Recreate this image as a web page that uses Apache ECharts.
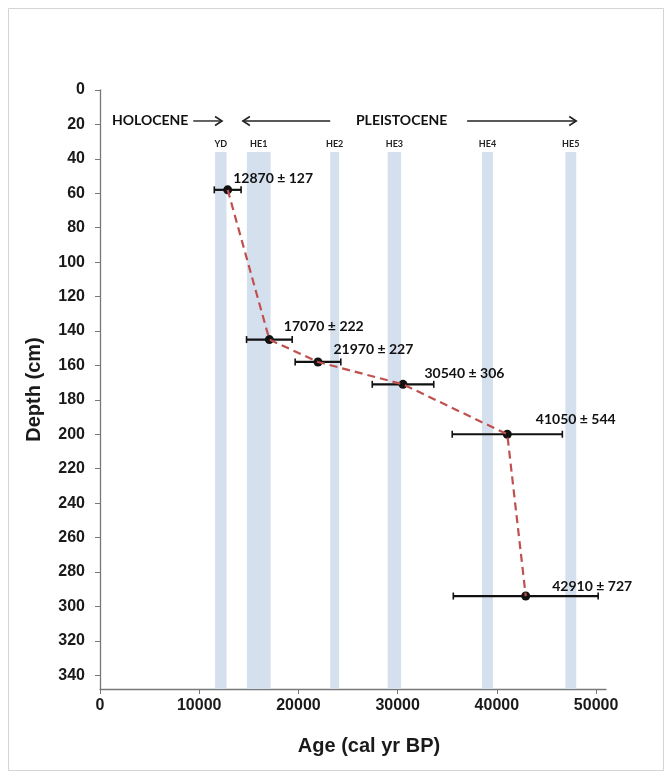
<!DOCTYPE html>
<html>
<head>
<meta charset="utf-8">
<script src="https://cdn.jsdelivr.net/npm/echarts@6/dist/echarts.min.js"></script>
<style>
  html, body { margin: 0; padding: 0; background: #fff; }
  #chart { width: 672px; height: 778px; }
</style>
</head>
<body>
<div id="chart"></div>
<script>
// Radiocarbon-dated horizons: calibrated age, core depth, stated 1-sigma error
const ages = [12870, 17070, 21970, 30540, 41050, 42910];
const depths = [58, 145, 158, 171, 200, 294];
const ageErrors = [127, 222, 227, 306, 544, 727];
// half-width of the horizontal range bar drawn around each age
const rangeHalfWidths = [1350, 2300, 2300, 3100, 5550, 7300];

// Younger Dryas and Heinrich events (age spans)
const eventNames = ['YD', 'HE1', 'HE2', 'HE3', 'HE4', 'HE5'];
const eventStarts = [11600, 14800, 23200, 29000, 38500, 46900];
const eventEnds = [12750, 17200, 24100, 30350, 39600, 48000];

// Axis ranges
const ageMin = 0, ageMax = 51000, ageStep = 10000;
const depthMin = 0, depthMax = 348, depthStep = 20;
const bandTopDepth = 36;

// Label placement next to each dated point (pixels: right, down)
const labelOffsets = [[1, -11], [10, -13], [11, -12], [17, -11], [24, -15], [22, -10]];

const axisFontFamily = 'Liberation Sans, Arial, sans-serif';
const tickFont = { fontFamily: axisFontFamily, fontWeight: 'bold', fontSize: 16, color: '#1a1a1a' };
const titleFont = { fontFamily: axisFontFamily, fontWeight: 'bold', fontSize: 20, color: '#1a1a1a' };
const annoFont = 'Lato, Carlito, sans-serif';

const chart = echarts.init(document.getElementById('chart'), null, { renderer: 'canvas' });

const pointData = ages.map((a, i) => ({
  value: [a, depths[i]],
  label: { offset: labelOffsets[i] }
}));
const rangeData = ages.map((a, i) => [a, depths[i], rangeHalfWidths[i]]);
const bandData = eventNames.map((n, i) => [
  { name: n, xAxis: eventStarts[i], yAxis: bandTopDepth },
  { xAxis: eventEnds[i], yAxis: depthMax }
]);

chart.setOption({
  animation: false,
  backgroundColor: '#fff',
  grid: { left: 100, right: 66, top: 90, bottom: 89, containLabel: false },
  xAxis: {
    type: 'value', min: ageMin, max: ageMax, interval: ageStep,
    name: 'Age (cal yr BP)', nameLocation: 'middle', nameGap: 47,
    nameTextStyle: Object.assign({ padding: [0, 0, 0, 32] }, titleFont),
    axisLine: { onZero: false, lineStyle: { color: '#777', width: 1.3 } },
    axisTick: { length: 5, lineStyle: { color: '#777' } },
    axisLabel: Object.assign({ margin: 9, showMaxLabel: false, formatter: v => String(v) }, tickFont),
    splitLine: { show: false }
  },
  yAxis: {
    type: 'value', inverse: true, min: depthMin, max: depthMax, interval: depthStep,
    name: 'Depth (cm)', nameLocation: 'middle', nameGap: 56, nameRotate: 90,
    nameTextStyle: titleFont,
    axisLine: { onZero: false, lineStyle: { color: '#777', width: 1.3 } },
    axisTick: { length: 5, lineStyle: { color: '#777' } },
    axisLabel: Object.assign({ margin: 15, showMaxLabel: false, formatter: v => String(v) }, tickFont),
    splitLine: { show: false }
  },
  series: [
    {
      // event bands and horizontal age-range bars
      type: 'custom',
      z: 2,
      data: rangeData,
      encode: { x: 0, y: 1 },
      renderItem: function (params, api) {
        const x = api.value(0), y = api.value(1), e = api.value(2);
        const p1 = api.coord([x - e, y]);
        const p2 = api.coord([x + e, y]);
        const h = 3.5;
        const st = { stroke: '#111', lineWidth: 2.2 };
        return {
          type: 'group',
          children: [
            { type: 'line', shape: { x1: p1[0], y1: p1[1], x2: p2[0], y2: p2[1] }, style: st },
            { type: 'line', shape: { x1: p1[0], y1: p1[1] - h, x2: p1[0], y2: p1[1] + h }, style: { stroke: '#111', lineWidth: 1.6 } },
            { type: 'line', shape: { x1: p2[0], y1: p2[1] - h, x2: p2[0], y2: p2[1] + h }, style: { stroke: '#111', lineWidth: 1.6 } }
          ]
        };
      },
      markArea: {
        silent: true,
        itemStyle: { color: '#d5e0ee' },
        label: {
          show: true, position: 'top', distance: 3,
          fontFamily: annoFont, fontWeight: 'bold', fontSize: 9, color: '#222'
        },
        data: bandData
      }
    },
    {
      type: 'scatter',
      z: 3,
      data: pointData,
      symbol: 'circle',
      symbolSize: 9,
      itemStyle: { color: '#111', opacity: 1 },
      label: {
        show: true, position: 'right', distance: 0,
        fontFamily: annoFont, fontWeight: 'bold', fontSize: 14, color: '#111',
        formatter: p => ages[p.dataIndex] + ' \u00b1 ' + ageErrors[p.dataIndex]
      }
    },
    {
      type: 'line',
      z: 4,
      data: ages.map((a, i) => [a, depths[i]]),
      symbol: 'none',
      lineStyle: { color: '#c0504d', width: 2.2, type: [8, 5] }
    }
  ]
});

// Period annotations along the top, placed in data coordinates
const periodDepth = 18;
const periodTexts = [
  { text: 'HOLOCENE', age: 1200, align: 'left' },
  { text: 'PLEISTOCENE', age: 30400, align: 'center' }
];
const periodArrows = [
  { from: 9400, to: 12300 },
  { from: 23200, to: 14400 },
  { from: 37000, to: 48000 }
];

const graphics = [{
  type: 'rect', silent: true,
  shape: { x: 8.5, y: 8.5, width: 655, height: 762 },
  style: { fill: 'none', stroke: '#d4d4d4', lineWidth: 1 }
}];
periodTexts.forEach(t => {
  const p = chart.convertToPixel({ gridIndex: 0 }, [t.age, periodDepth]);
  graphics.push({
    type: 'text', silent: true, x: p[0], y: p[1],
    style: {
      text: t.text, align: t.align, verticalAlign: 'middle',
      font: 'bold 14px ' + annoFont, fill: '#111'
    }
  });
});
periodArrows.forEach(a => {
  const p1 = chart.convertToPixel({ gridIndex: 0 }, [a.from, periodDepth]);
  const p2 = chart.convertToPixel({ gridIndex: 0 }, [a.to, periodDepth]);
  const dir = p2[0] > p1[0] ? 1 : -1;
  graphics.push({
    type: 'line', silent: true,
    shape: { x1: p1[0], y1: p1[1], x2: p2[0], y2: p2[1] },
    style: { stroke: '#222', lineWidth: 1.4 }
  });
  graphics.push({
    type: 'polyline', silent: true,
    shape: { points: [[p2[0] - dir * 7, p2[1] - 4.5], [p2[0], p2[1]], [p2[0] - dir * 7, p2[1] + 4.5]] },
    style: { stroke: '#222', lineWidth: 1.6, fill: 'none' }
  });
});
chart.setOption({ graphic: graphics });
</script>
</body>
</html>
